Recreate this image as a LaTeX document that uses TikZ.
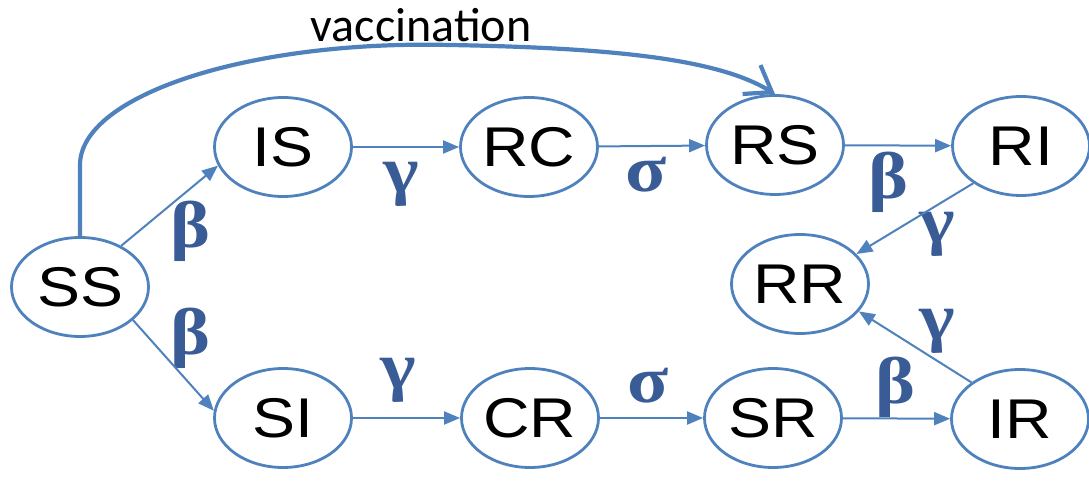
\documentclass[tikz,border=0pt]{standalone}
\usepackage{fontspec}
\usetikzlibrary{arrows.meta,shapes.geometric}
\newfontfamily\statefont[FakeStretch=1.15]{Liberation Sans}
\newfontfamily\ratefont[FakeStretch=1.15]{Liberation Serif}
\newfontfamily\vaccfont{Carlito}
\definecolor{linkblue}{RGB}{79,129,189}
\definecolor{rateblue}{RGB}{58,92,150}

\begin{document}
\begin{tikzpicture}[x=1pt,y=1pt,
        state/.style={ellipse,draw=linkblue,line width=2.8pt,
            minimum width=137pt,minimum height=99pt,inner sep=0pt,
            font=\statefont\fontsize{56}{56}\selectfont},
        rate/.style={text=rateblue,inner sep=0pt,
            font=\ratefont\bfseries\fontsize{66}{66}\selectfont},
        flow/.style={draw=linkblue,line width=2pt,
            -{Triangle[length=16pt,width=13pt]}},
        vacc/.style={draw=linkblue,line width=4.2pt,line cap=round,
            -{Straight Barb[length=24pt,width=34pt]}}]
        \useasboundingbox (0,0) rectangle (1089,481);
        \foreach \n/\x/\y in{
        SS/80/194,
        IS/283/334,
        RC/529/334,
        RS/775/336,
        RI/1021/335,
        RR/800/197,
        SI/283/63,
        CR/530/63,
        SR/773/63,
        IR/1020/62
        }
        {
            \node[state] (\n) at (\x,\y) {\n};
        }
        \foreach \n/\x/\y/\l in{
        b1/190/250/β,
        b2/190/143/β,
        g1/401/297/γ,
        s1/646/306/σ,
        b3/888/299/β,
        g3/937/247/γ,
        g4/937/150/γ,
        b4/895/94/β,
        s2/648/95/σ,
        g2/398/101/γ
        }
        {
            \node[rate] (\n) at (\x,\y) {\l};
        }
        \node[anchor=base,inner sep=0pt,font=\vaccfont\fontsize{48}{48}\selectfont]
            (vtext) at (421,439) {vaccination};
        \draw[flow] (SS.45) -- (IS.196);
        \draw[flow] (SS.328) -- (SI.174);
        \draw[flow] (IS) -- (RC);
        \draw[flow] (RC) -- (RS);
        \draw[flow] (RS) -- (RI);
        \draw[flow] (SI) -- (CR);
        \draw[flow] (CR) -- (SR);
        \draw[flow] (SR) -- (IR);
        \draw[flow] (RI.218) -- (RR.28);
        \draw[flow] (IR.143) -- (RR.335);
        \draw[vacc] (SS.north) -- (80,316)
            .. controls (80,386) and (250,441) .. (450,436)
            .. controls (620,433) and (720,421) .. (RS.north);
\end{tikzpicture}
\end{document}
